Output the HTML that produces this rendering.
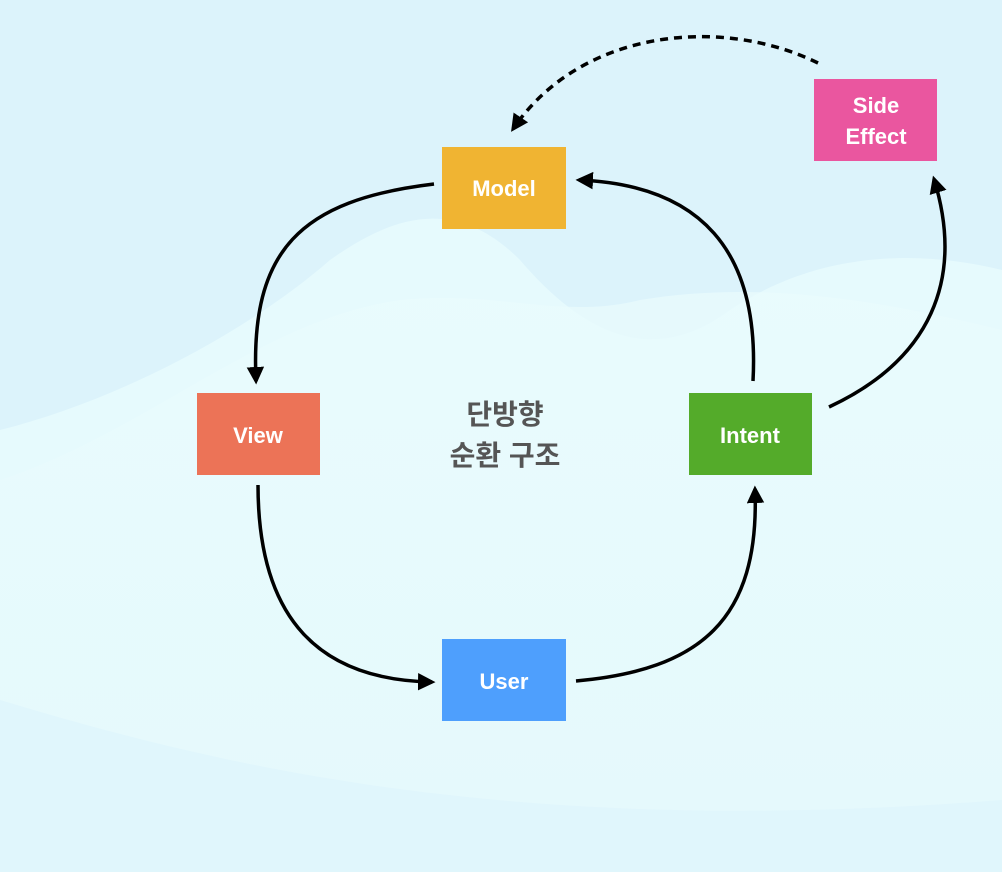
<!DOCTYPE html>
<html><head><meta charset="utf-8"><style>
html,body{margin:0;padding:0;width:1002px;height:872px;overflow:hidden;background:#dcf3fb;}
svg{display:block}
text{font-family:"Liberation Sans","Noto Sans CJK KR",sans-serif;font-weight:bold}
</style></head><body>
<svg width="1002" height="872" viewBox="0 0 1002 872" xmlns="http://www.w3.org/2000/svg">
<defs>
<linearGradient id="g1" x1="0" y1="0" x2="0" y2="1">
<stop offset="0" stop-color="#eafcfd"/><stop offset="1" stop-color="#e4f8fc"/>
</linearGradient>
<marker id="ah" viewBox="0 0 10 10" refX="8" refY="5" markerWidth="5" markerHeight="5" orient="auto">
<path d="M0,0 L10,5 L0,10 z" fill="#000"/>
</marker>
</defs>
<rect width="1002" height="872" fill="#dcf3fb"/>
<path d="M0,430 C120,400 250,330 330,260 C400,210 460,200 520,260 C580,330 650,370 730,310 C820,250 920,250 1002,270 L1002,872 L0,872 Z" fill="#e6fafd"/>
<path d="M0,480 C150,430 260,320 400,300 C500,290 560,320 640,300 C760,280 880,300 1002,330 L1002,872 L0,872 Z" fill="url(#g1)" opacity="0.7"/>
<path d="M0,700 C200,760 500,840 1002,800 L1002,872 L0,872 Z" fill="#dcf4fb" opacity="0.6"/>

<g fill="none" stroke="#000" stroke-width="3.5">
<path d="M434,184 C300,200 250,250 256,381" marker-end="url(#ah)"/>
<path d="M258,485 C258,620 320,680 432,682" marker-end="url(#ah)"/>
<path d="M576,681 C700,670 760,620 755,489" marker-end="url(#ah)"/>
<path d="M753,381 C760,250 700,185 579,180" marker-end="url(#ah)"/>
<path d="M829,407 C930,360 965,280 934,179" marker-end="url(#ah)"/>
<path d="M818,63 C720,15 580,30 513,129" stroke-dasharray="8,6" marker-end="url(#ah)"/>
</g>

<rect x="442" y="147" width="124" height="82" fill="#f0b432"/>
<text x="504" y="196" font-size="22" fill="#fff" text-anchor="middle">Model</text>
<rect x="814" y="79" width="123" height="82" fill="#ea569f"/>
<text x="876" y="113" font-size="22" fill="#fff" text-anchor="middle">Side</text>
<text x="876" y="144" font-size="22" fill="#fff" text-anchor="middle">Effect</text>
<rect x="197" y="393" width="123" height="82" fill="#ec7357"/>
<text x="258" y="443" font-size="22" fill="#fff" text-anchor="middle">View</text>
<rect x="689" y="393" width="123" height="82" fill="#54ab2a"/>
<text x="750" y="443" font-size="22" fill="#fff" text-anchor="middle">Intent</text>
<rect x="442" y="639" width="124" height="82" fill="#4e9ffd"/>
<text x="504" y="689" font-size="22" fill="#fff" text-anchor="middle">User</text>

<text x="505" y="424" font-size="28" fill="#555" text-anchor="middle">단방향</text>
<text x="505" y="465" font-size="28" fill="#555" text-anchor="middle">순환 구조</text>
</svg>
</body></html>
